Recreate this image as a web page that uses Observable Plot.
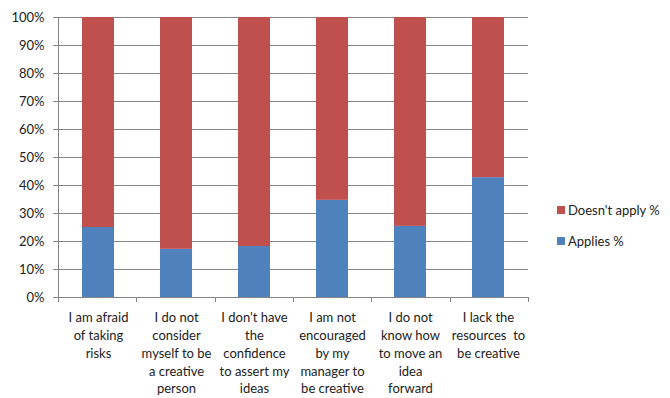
<!DOCTYPE html>
<html>
<head>
<meta charset="utf-8">
<script src="https://cdn.jsdelivr.net/npm/d3@7"></script>
<script src="https://cdn.jsdelivr.net/npm/@observablehq/plot@0.6"></script>
<style>
  body { margin: 0; background: #fff; }
  #wrap { position: relative; width: 670px; height: 398px; font-family: Lato, "Open Sans", sans-serif; }
  #legend { position: absolute; left: 557px; top: 200px; font-size: 13px; color: #222; }
  #legend .item { display: flex; align-items: center; height: 20px; margin-bottom: 11px; white-space: nowrap; }
  #legend .sw { width: 8px; height: 8px; margin-right: 3px; }
</style>
</head>
<body>
<div id="wrap">
  <div id="legend"></div>
</div>
<script>
// Survey statements (x categories), shown as wrapped multi-line labels
const categories = [
  "I am afraid\nof taking\nrisks",
  "I do not\nconsider\nmyself to be\na creative\nperson",
  "I don't have\nthe\nconfidence\nto assert my\nideas",
  "I am not\nencouraged\nby my\nmanager to\nbe creative",
  "I do not\nknow how\nto move an\nidea\nforward",
  "I lack the\nresources  to\nbe creative"
];

// Share of respondents (percent) for each statement
const appliesPct      = [25, 17.2, 18.2, 34.7, 25.4, 42.8];
const doesntApplyPct  = [75, 82.8, 81.8, 65.3, 74.6, 57.2];

// Series names, stacking order bottom to top
const seriesNames = ["Applies %", "Doesn't apply %"];
const seriesColors = ["#4F81BD", "#C0504D"];

// Y axis ticks
const yTicks = [0, 10, 20, 30, 40, 50, 60, 70, 80, 90, 100];

const rows = [];
categories.forEach((c, i) => {
  rows.push({category: c, series: seriesNames[0], value: appliesPct[i]});
  rows.push({category: c, series: seriesNames[1], value: doesntApplyPct[i]});
});

const gridColor = "#868686";
const textColor = "#222";

// Short tick marks on the x axis at the boundaries between categories
function bandBoundaryTicks(index, scales, values, dimensions) {
  const {marginLeft, marginRight, marginBottom, width, height} = dimensions;
  const n = categories.length;
  const step = (width - marginLeft - marginRight) / n;
  const y0 = height - marginBottom;
  const g = d3.create("svg:g").attr("stroke", gridColor).attr("stroke-width", 1);
  for (let i = 0; i <= n; i++) {
    const x = Math.round(marginLeft + i * step) + 0.5;
    g.append("line").attr("x1", x).attr("x2", x).attr("y1", y0).attr("y2", y0 + 5);
  }
  return g.node();
}

const chart = Plot.plot({
  width: 670,
  height: 398,
  marginLeft: 58,
  marginRight: 142,
  marginTop: 17,
  marginBottom: 101,
  style: {fontFamily: "Lato, 'Open Sans', sans-serif", color: textColor, background: "#fff"},
  x: {domain: categories, paddingInner: 0.59, paddingOuter: 0.295, label: null},
  y: {domain: [0, 100], label: null},
  color: {domain: seriesNames, range: seriesColors},
  marks: [
    Plot.gridY(yTicks, {stroke: gridColor, strokeOpacity: 1}),
    Plot.barY(rows, {x: "category", y: "value", fill: "series", order: seriesNames}),
    Plot.ruleY([0], {stroke: gridColor}),
    Plot.frame({anchor: "left", stroke: gridColor}),
    Plot.axisY(yTicks, {
      tickFormat: d => d + "%",
      tickSize: 5,
      tickPadding: 9,
      stroke: gridColor,
      fill: textColor,
      fontSize: 13
    }),
    Plot.axisX({
      tickSize: 0,
      tickPadding: 12,
      lineHeight: 1.37,
      fill: textColor,
      fontSize: 13
    }),
    bandBoundaryTicks
  ]
});

document.getElementById("wrap").prepend(chart);

// Legend, listed top to bottom as the series appear stacked
const legend = d3.select("#legend");
[1, 0].forEach(i => {
  const item = legend.append("div").attr("class", "item");
  item.append("div").attr("class", "sw").style("background", seriesColors[i]);
  item.append("span").text(seriesNames[i]);
});
</script>
</body>
</html>
